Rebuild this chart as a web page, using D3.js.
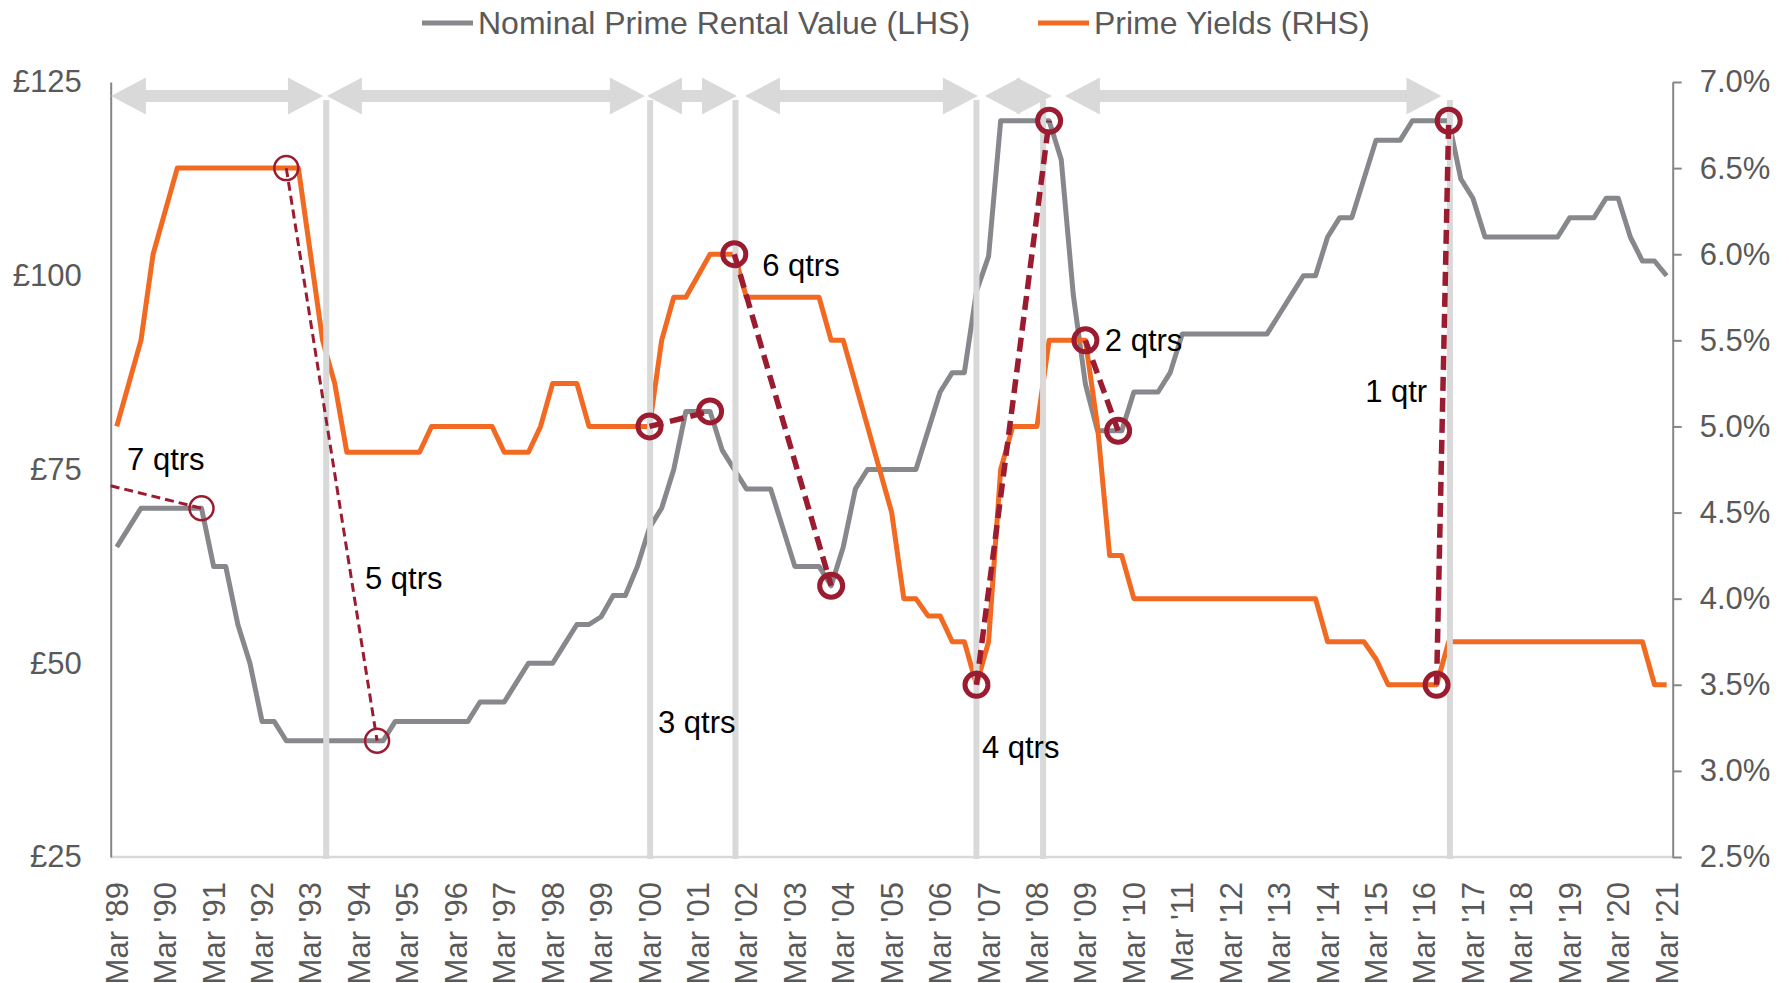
<!DOCTYPE html>
<html>
<head>
<meta charset="utf-8">
<script src="https://cdn.jsdelivr.net/npm/d3@7"></script>
<style>
  html, body { margin: 0; padding: 0; background: #fff; }
  svg { display: block; font-family: "Liberation Sans", Arial, Helvetica, sans-serif; }
</style>
</head>
<body>
<svg id="chart" width="1789" height="983"></svg>
<script>
// ---- Categories: quarterly, Mar '89 to Mar '21 ----
const quarterMonths = ["Mar", "Jun", "Sep", "Dec"];
const quarterLabels = [];
for (let yr = 1989; yr <= 2021; yr++) {
  for (const m of quarterMonths) {
    if (yr === 2021 && m !== "Mar") break;
    quarterLabels.push(`${m} '${String(yr % 100).padStart(2, "0")}`);
  }
}

// ---- Series ----
const seriesNames = ["Nominal Prime Rental Value (LHS)", "Prime Yields (RHS)"];

// Nominal prime rent, £ per sq ft
const rentValues = [
  65, 67.5, 70, 70, 70, 70, 70, 70,
  62.5, 62.5, 55, 50, 42.5, 42.5, 40, 40,
  40, 40, 40, 40, 40, 40, 40, 42.5,
  42.5, 42.5, 42.5, 42.5, 42.5, 42.5, 45, 45,
  45, 47.5, 50, 50, 50, 52.5, 55, 55,
  56, 58.75, 58.75, 62.5, 67.5, 70, 75, 82.5,
  82.5, 82.5, 77.5, 75, 72.5, 72.5, 72.5, 67.5,
  62.5, 62.5, 62.5, 60, 65, 72.5, 75, 75,
  75, 75, 75, 80, 85, 87.5, 87.5, 98,
  102.5, 120, 120, 120, 120, 120, 115, 97.5,
  86, 80, 80, 80, 85, 85, 85, 87.5,
  92.5, 92.5, 92.5, 92.5, 92.5, 92.5, 92.5, 92.5,
  95, 97.5, 100, 100, 105, 107.5, 107.5, 112.5,
  117.5, 117.5, 117.5, 120, 120, 120, 120, 112.5,
  110, 105, 105, 105, 105, 105, 105, 105,
  107.5, 107.5, 107.5, 110, 110, 105, 101.9, 101.9,
  100
];

// Prime yields, %
const yieldValues = [
  5.0, 5.25, 5.5, 6.0, 6.25, 6.5, 6.5, 6.5,
  6.5, 6.5, 6.5, 6.5, 6.5, 6.5, 6.5, 6.5,
  6.0, 5.5, 5.25, 4.85, 4.85, 4.85, 4.85, 4.85,
  4.85, 4.85, 5.0, 5.0, 5.0, 5.0, 5.0, 5.0,
  4.85, 4.85, 4.85, 5.0, 5.25, 5.25, 5.25, 5.0,
  5.0, 5.0, 5.0, 5.0, 5.0, 5.5, 5.75, 5.75,
  5.875, 6.0, 6.0, 6.0, 5.75, 5.75, 5.75, 5.75,
  5.75, 5.75, 5.75, 5.5, 5.5, 5.25, 5.0, 4.75,
  4.5, 4.0, 4.0, 3.9, 3.9, 3.75, 3.75, 3.5,
  3.75, 4.75, 5.0, 5.0, 5.0, 5.5, 5.5, 5.5,
  5.5, 5.0, 4.25, 4.25, 4.0, 4.0, 4.0, 4.0,
  4.0, 4.0, 4.0, 4.0, 4.0, 4.0, 4.0, 4.0,
  4.0, 4.0, 4.0, 4.0, 3.75, 3.75, 3.75, 3.75,
  3.65, 3.5, 3.5, 3.5, 3.5, 3.5, 3.75, 3.75,
  3.75, 3.75, 3.75, 3.75, 3.75, 3.75, 3.75, 3.75,
  3.75, 3.75, 3.75, 3.75, 3.75, 3.75, 3.75, 3.5,
  3.5
];

// ---- Axis ticks ----
const rentTicks = [25, 50, 75, 100, 125];
const yieldTicks = [2.5, 3.0, 3.5, 4.0, 4.5, 5.0, 5.5, 6.0, 6.5, 7.0];

// ---- Cycle annotations (positions on the quarter index) ----
const cycleDividers = [17.3, 44.05, 51.1, 71.0, 76.5, 110.1];
const cycleArrows = [
  [-0.48, 17.03], [17.36, 43.62], [43.79, 51.22],
  [51.88, 71.12], [71.7, 77.23], [78.3, 109.4]
];

// Lag between yield turning point and rental turning point
const lagLinks = [
  { label: "7 qtrs", style: "thin",  from: { q: -0.5, rent: 72.9, noMarker: true }, to: { q: 7,    s: "rent" },  labelAt: [0.85, 74.9] },
  { label: "5 qtrs", style: "thin",  from: { q: 14,   s: "yield" },               to: { q: 21.5, s: "rent" },  labelAt: [20.5, 59.6] },
  { label: "3 qtrs", style: "thick", from: { q: 44,   s: "yield" },               to: { q: 49,   s: "rent" },  labelAt: [44.7, 41.0] },
  { label: "6 qtrs", style: "thick", from: { q: 51,   s: "yield" },               to: { q: 59,   s: "rent" },  labelAt: [53.3, 100.0] },
  { label: "4 qtrs", style: "thick", from: { q: 71,   s: "yield" },               to: { q: 77,   s: "rent" },  labelAt: [71.45, 37.8] },
  { label: "2 qtrs", style: "thick", from: { q: 80,   s: "yield" },               to: { q: 82.7, s: "rent" },  labelAt: [81.6, 90.3] },
  { label: "1 qtr",  style: "thick", from: { q: 109,  s: "yield" },               to: { q: 110,  s: "rent" },  labelAt: [103.1, 83.7] }
];

// ---- Layout ----
const plot = { left: 110.7, right: 1672.7, top: 82, bottom: 857 };
const colors = {
  rent: "#86888c", yield: "#f26a21", marker: "#9b1c31",
  guide: "#d9d9d9", axis: "#868686", text: "#595959"
};

const svg = d3.select("#chart");
svg.append("rect").attr("width", 1789).attr("height", 983).attr("fill", "#fff");

const n = quarterLabels.length;
const x = d3.scaleLinear().domain([-0.5, n - 0.5]).range([plot.left, plot.right]);
const yRent = d3.scaleLinear().domain([25, 125]).range([plot.bottom, plot.top]);
const yYield = d3.scaleLinear().domain([2.5, 7.0]).range([plot.bottom, plot.top]);

const seriesData = { rent: rentValues, yield: yieldValues };
const seriesScale = { rent: yRent, yield: yYield };

function valueAt(s, q) {
  const arr = seriesData[s];
  const i0 = Math.floor(q), i1 = Math.ceil(q);
  if (i0 === i1) return arr[i0];
  return arr[i0] + (arr[i1] - arr[i0]) * (q - i0);
}
function pointOf(p) {
  if (p.s) return [x(p.q), seriesScale[p.s](valueAt(p.s, p.q))];
  return [x(p.q), yRent(p.rent)];
}

// ---- Axes ----
// x baseline
svg.append("line")
  .attr("x1", plot.left).attr("x2", plot.right)
  .attr("y1", plot.bottom).attr("y2", plot.bottom)
  .attr("stroke", colors.guide).attr("stroke-width", 2.5);

// left axis (rent)
const leftAxis = svg.append("g").attr("transform", `translate(${plot.left},0)`)
  .call(d3.axisLeft(yRent).tickValues(rentTicks).tickSize(0).tickPadding(29)
    .tickFormat(d => "£" + d));
leftAxis.select(".domain").attr("stroke", colors.axis).attr("stroke-width", 2);
leftAxis.selectAll("text").attr("fill", colors.text).style("font-size", "31px")
  .attr("font-family", "Liberation Sans, Arial, sans-serif");

// right axis (yield)
const rightAxis = svg.append("g").attr("transform", `translate(${plot.right},0)`)
  .call(d3.axisRight(yYield).tickValues(yieldTicks).tickSize(9).tickSizeOuter(0).tickPadding(18)
    .tickFormat(d => d3.format(".1f")(d) + "%"));
rightAxis.select(".domain").attr("stroke", colors.axis).attr("stroke-width", 2);
rightAxis.selectAll(".tick line").attr("stroke", colors.axis).attr("stroke-width", 2);
rightAxis.selectAll("text").attr("fill", colors.text).style("font-size", "31px")
  .attr("font-family", "Liberation Sans, Arial, sans-serif");

// x tick labels (March of each year), rotated
const yearTickIdx = d3.range(n).filter(i => quarterLabels[i].startsWith("Mar"));
svg.append("g").selectAll("text").data(yearTickIdx).join("text")
  .attr("transform", i => `translate(${x(i) + 11},882) rotate(-90)`)
  .attr("text-anchor", "end")
  .attr("fill", colors.text)
  .style("font-size", "31px")
  .text(i => quarterLabels[i]);

// ---- Series lines ----
const lineGen = s => d3.line().x((d, i) => x(i)).y(d => seriesScale[s](d));
svg.append("path").datum(rentValues)
  .attr("d", lineGen("rent")).attr("fill", "none")
  .attr("stroke", colors.rent).attr("stroke-width", 5).attr("stroke-linejoin", "round");
svg.append("path").datum(yieldValues)
  .attr("d", lineGen("yield")).attr("fill", "none")
  .attr("stroke", colors.yield).attr("stroke-width", 5).attr("stroke-linejoin", "round");

// ---- Cycle dividers ----
svg.append("g").selectAll("line").data(cycleDividers).join("line")
  .attr("x1", d => x(d)).attr("x2", d => x(d))
  .attr("y1", 100).attr("y2", 859)
  .attr("stroke", colors.guide).attr("stroke-width", 6);

// ---- Cycle arrows (double-headed) ----
const arrowY = 96, headLen = 35, headHalf = 18.5, shaft = 12;
const arrowG = svg.append("g").attr("fill", colors.guide);
cycleArrows.forEach(([a, b]) => {
  const x1 = x(a), x2 = x(b);
  if (x2 - x1 > 2 * headLen) {
    arrowG.append("rect").attr("x", x1 + headLen - 1).attr("y", arrowY - shaft / 2)
      .attr("width", x2 - x1 - 2 * headLen + 2).attr("height", shaft);
  }
  arrowG.append("polygon").attr("points",
    [[x1, arrowY], [x1 + headLen, arrowY - headHalf], [x1 + headLen, arrowY + headHalf]].join(" "));
  arrowG.append("polygon").attr("points",
    [[x2, arrowY], [x2 - headLen, arrowY - headHalf], [x2 - headLen, arrowY + headHalf]].join(" "));
});

// ---- Lag links: dashed connectors, circle markers, labels ----
const linkStyle = {
  thin:  { w: 3,   dash: "9,5",  r: 12,   cw: 2.5 },
  thick: { w: 5.5, dash: "14,7", r: 11.5, cw: 5 }
};
const linkG = svg.append("g");
lagLinks.forEach(l => {
  const st = linkStyle[l.style];
  const p1 = pointOf(l.from), p2 = pointOf(l.to);
  linkG.append("line")
    .attr("x1", p1[0]).attr("y1", p1[1]).attr("x2", p2[0]).attr("y2", p2[1])
    .attr("stroke", colors.marker).attr("stroke-width", st.w)
    .attr("stroke-dasharray", st.dash);
});
lagLinks.forEach(l => {
  const st = linkStyle[l.style];
  [l.from, l.to].filter(p => !p.noMarker).forEach(p => {
    const c = pointOf(p);
    linkG.append("circle").attr("cx", c[0]).attr("cy", c[1]).attr("r", st.r)
      .attr("fill", "none").attr("stroke", colors.marker).attr("stroke-width", st.cw);
  });
  linkG.append("text")
    .attr("x", x(l.labelAt[0])).attr("y", yRent(l.labelAt[1]))
    .attr("fill", "#000").style("font-size", "31px")
    .text(l.label);
});

// ---- Legend ----
const legend = svg.append("g");
const legendItems = [
  { name: seriesNames[0], color: colors.rent, x0: 422 },
  { name: seriesNames[1], color: colors.yield, x0: 1038 }
];
legendItems.forEach(it => {
  legend.append("line").attr("x1", it.x0).attr("x2", it.x0 + 51)
    .attr("y1", 23).attr("y2", 23)
    .attr("stroke", it.color).attr("stroke-width", 5);
  legend.append("text").attr("x", it.x0 + 56).attr("y", 23).attr("dy", "0.35em")
    .attr("fill", colors.text).style("font-size", "32px").text(it.name);
});
</script>
</body>
</html>
